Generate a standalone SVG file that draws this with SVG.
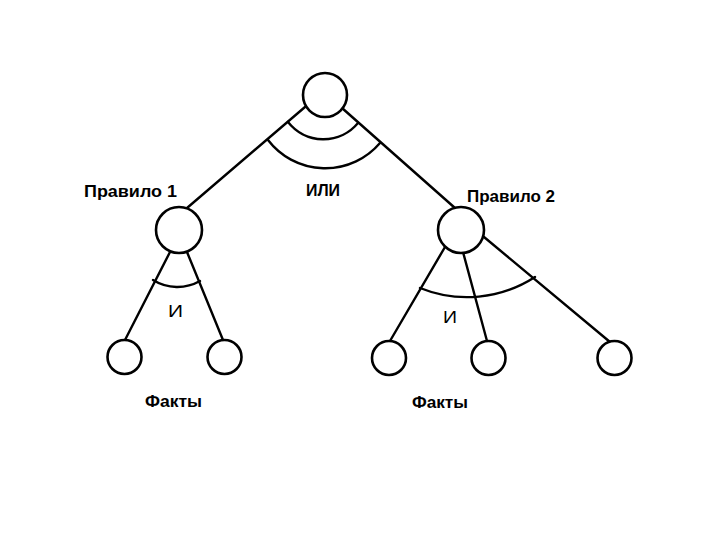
<svg xmlns="http://www.w3.org/2000/svg" width="720" height="540" viewBox="0 0 720 540">
<style>
.n{fill:#fff;stroke:#000;stroke-width:2.6}
.e{fill:none;stroke:#000;stroke-width:2.4;stroke-linecap:round}
.t{font-family:"Liberation Sans",Arial,sans-serif;font-size:16px;fill:#000}
.b{font-weight:bold}
</style>
<rect width="720" height="540" fill="#fff"/>
<g id="connectors">
<line class="e" x1="305" y1="107" x2="187" y2="208"/>
<line class="e" x1="342" y1="108" x2="455" y2="208"/>
<line class="e" x1="170" y1="252" x2="125" y2="340"/>
<line class="e" x1="187" y1="252" x2="223" y2="340"/>
<line class="e" x1="445" y1="247" x2="390" y2="341"/>
<line class="e" x1="463" y1="252" x2="487" y2="341"/>
<line class="e" x1="484" y1="237" x2="610" y2="342"/>
<path class="e" d="M288 122 A45 45 0 0 0 358 123"/>
<path class="e" d="M268 140 A72 72 0 0 0 380 143"/>
<path class="e" d="M153 280 A46 46 0 0 0 200 281"/>
<path class="e" d="M420 288 A125 125 0 0 0 535 277"/>
</g>
<g id="root"><circle class="n" cx="325" cy="95" r="22"/></g>
<g id="or-label"><text class="t b" x="306" y="196" textLength="34" lengthAdjust="spacingAndGlyphs">ИЛИ</text></g>
<g id="rule1">
<circle class="n" cx="179" cy="230" r="23"/>
<text class="t b" x="84" y="197" textLength="93" lengthAdjust="spacingAndGlyphs">Правило 1</text>
<text class="t" x="168" y="317" textLength="15" lengthAdjust="spacingAndGlyphs">И</text>
</g>
<g id="rule2">
<circle class="n" cx="461" cy="230" r="23"/>
<text class="t b" x="467" y="202" textLength="88" lengthAdjust="spacingAndGlyphs">Правило 2</text>
<text class="t" x="443" y="323" textLength="14" lengthAdjust="spacingAndGlyphs">И</text>
</g>
<g id="fact1"><circle class="n" cx="124.5" cy="357" r="17"/></g>
<g id="fact2"><circle class="n" cx="224.5" cy="357" r="17"/></g>
<g id="fact3"><circle class="n" cx="389" cy="358" r="17"/></g>
<g id="fact4"><circle class="n" cx="488.5" cy="358" r="17"/></g>
<g id="fact5"><circle class="n" cx="614.5" cy="358" r="17"/></g>
<g id="facts-labels">
<text class="t b" x="145" y="407" textLength="57" lengthAdjust="spacingAndGlyphs">Факты</text>
<text class="t b" x="412" y="408" textLength="56" lengthAdjust="spacingAndGlyphs">Факты</text>
</g>
</svg>
